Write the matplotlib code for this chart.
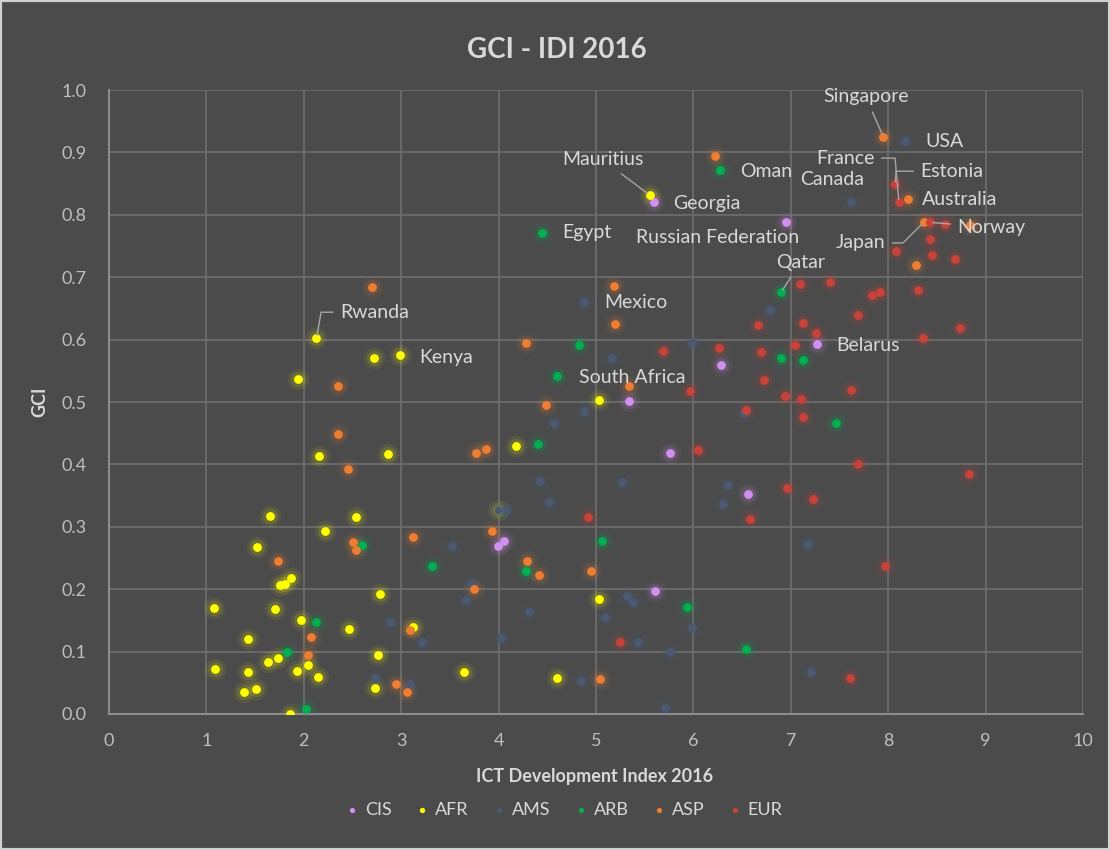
import matplotlib.pyplot as plt
from matplotlib.patches import Rectangle

plt.rcParams['font.family'] = ['Lato', 'DejaVu Sans']

# ICT Development Index 2016 (x) vs Global Cybersecurity Index (y), by region
cis_x = [5.60, 6.95, 7.27, 6.28, 5.34, 5.76, 6.56, 4.06, 3.99, 5.61]
cis_y = [0.820, 0.789, 0.593, 0.560, 0.502, 0.418, 0.353, 0.278, 0.270, 0.197]

afr_x = [5.55, 2.13, 2.99, 2.72, 1.94, 5.03, 4.18, 2.16, 2.86, 3.99, 1.65, 2.54, 2.22,
         1.52, 1.87, 1.76, 1.81, 2.78, 5.03, 1.08, 1.70, 1.97, 2.46, 3.12, 1.43, 2.76,
         1.09, 1.43, 1.63, 1.73, 1.93, 2.04, 2.15, 3.64, 4.60, 2.73, 1.39, 1.51, 1.86]
afr_y = [0.832, 0.602, 0.575, 0.570, 0.537, 0.503, 0.430, 0.413, 0.417, 0.327, 0.317, 0.315, 0.293,
         0.268, 0.218, 0.206, 0.208, 0.192, 0.185, 0.170, 0.168, 0.150, 0.136, 0.139, 0.120, 0.094,
         0.072, 0.067, 0.084, 0.090, 0.069, 0.078, 0.060, 0.067, 0.058, 0.041, 0.035, 0.040, 0.0]

ams_x = [8.17, 7.62, 4.88, 6.79, 5.99, 5.16, 4.88, 4.57, 6.52, 4.43, 5.27, 6.35, 6.30, 4.52,
         3.99, 4.08, 3.52, 7.18, 3.73, 3.67, 5.32, 5.38, 4.31, 5.09, 5.99, 2.89, 5.43, 4.02,
         3.21, 5.76, 7.21, 2.73, 3.09, 4.85, 5.71]
ams_y = [0.918, 0.820, 0.660, 0.648, 0.594, 0.570, 0.486, 0.466, 0.482, 0.374, 0.372, 0.367, 0.337, 0.339,
         0.327, 0.327, 0.270, 0.273, 0.208, 0.183, 0.189, 0.180, 0.163, 0.155, 0.138, 0.147, 0.115, 0.122,
         0.115, 0.099, 0.067, 0.058, 0.048, 0.053, 0.010]

arb_x = [6.27, 4.45, 6.90, 4.83, 4.60, 6.90, 7.12, 7.46, 4.40, 2.60, 5.06, 3.32, 4.28, 5.93,
         2.13, 6.54, 1.83, 2.02]
arb_y = [0.872, 0.771, 0.676, 0.592, 0.542, 0.570, 0.567, 0.467, 0.433, 0.271, 0.278, 0.237, 0.229, 0.172,
         0.147, 0.104, 0.099, 0.008]

asp_x = [7.95, 6.22, 8.20, 8.37, 8.84, 8.29, 2.70, 5.18, 5.19, 4.28, 2.35, 5.34, 4.49, 2.35,
         3.77, 3.87, 2.45, 3.93, 3.12, 2.51, 2.54, 1.74, 4.29, 4.41, 4.95, 3.75, 2.07, 3.09,
         2.04, 2.95, 3.06, 5.04]
asp_y = [0.925, 0.895, 0.825, 0.789, 0.784, 0.719, 0.684, 0.686, 0.625, 0.595, 0.525, 0.525, 0.495, 0.448,
         0.419, 0.425, 0.393, 0.293, 0.284, 0.276, 0.263, 0.246, 0.246, 0.222, 0.229, 0.200, 0.123, 0.135,
         0.095, 0.048, 0.035, 0.056]

eur_x = [8.07, 8.11, 8.43, 8.58, 8.43, 8.08, 8.45, 8.69, 7.09, 7.40, 7.83, 7.92, 8.31, 7.69,
         6.66, 7.12, 7.26, 8.74, 8.36, 7.04, 6.26, 5.69, 6.69, 6.72, 7.62, 5.97, 6.94, 7.10,
         6.54, 7.13, 6.05, 7.69, 8.83, 6.96, 7.23, 4.92, 6.58, 7.97, 5.25, 7.61]
eur_y = [0.849, 0.820, 0.788, 0.785, 0.762, 0.742, 0.735, 0.729, 0.689, 0.692, 0.672, 0.676, 0.680, 0.640,
         0.623, 0.627, 0.610, 0.618, 0.603, 0.591, 0.586, 0.582, 0.580, 0.535, 0.520, 0.518, 0.509, 0.505,
         0.488, 0.476, 0.423, 0.400, 0.385, 0.363, 0.344, 0.315, 0.312, 0.237, 0.116, 0.057]

regions = ['CIS', 'AFR', 'AMS', 'ARB', 'ASP', 'EUR']
colors = ['#d18ff0', '#ffff00', '#4a5a72', '#00b050', '#ed7d31', '#c9423a']
xs = [cis_x, afr_x, ams_x, arb_x, asp_x, eur_x]
ys = [cis_y, afr_y, ams_y, arb_y, asp_y, eur_y]

# label: (point x, point y, text x, text y, ha, leader connection or None)
straight = 'arc3'
labels = {
    'Singapore': (7.95, 0.925, 7.77, 0.989, 'center', straight),
    'USA': (8.17, 0.918, 8.38, 0.918, 'left', None),
    'France': (8.11, 0.820, 7.86, 0.891, 'right', 'angle,angleA=0,angleB=95,rad=0'),
    'Canada': (7.62, 0.820, 7.42, 0.856, 'center', None),
    'Estonia': (8.07, 0.849, 8.33, 0.870, 'left', 'angle,angleA=0,angleB=85,rad=0'),
    'Australia': (8.20, 0.825, 8.35, 0.824, 'left', None),
    'Norway': (8.43, 0.788, 8.71, 0.780, 'left', straight),
    'Japan': (8.37, 0.789, 7.97, 0.755, 'right', 'angle,angleA=0,angleB=45,rad=0'),
    'Russian Federation': (6.95, 0.789, 6.25, 0.763, 'center', None),
    'Qatar': (6.90, 0.676, 7.10, 0.724, 'center', straight),
    'Belarus': (7.27, 0.593, 7.47, 0.591, 'left', None),
    'Mauritius': (5.55, 0.832, 5.07, 0.888, 'center', straight),
    'Georgia': (5.60, 0.820, 5.79, 0.819, 'left', None),
    'Oman': (6.27, 0.872, 6.48, 0.870, 'left', None),
    'Egypt': (4.45, 0.771, 4.65, 0.771, 'left', None),
    'Mexico': (4.88, 0.660, 5.08, 0.660, 'left', None),
    'South Africa': (5.03, 0.503, 4.83, 0.540, 'left', None),
    'Rwanda': (2.13, 0.602, 2.37, 0.644, 'left', 'angle,angleA=0,angleB=80,rad=0'),
    'Kenya': (2.99, 0.575, 3.19, 0.572, 'left', None),
}

bg = '#4b4b4b'
txt = '#d9d9d9'
fig = plt.figure(figsize=(11.1, 8.5), dpi=100, facecolor=bg)
fig.patches.append(Rectangle((0, 0), 1, 1, transform=fig.transFigure, fill=False,
                             edgecolor='#d0d0d0', lw=3, zorder=10))
ax = fig.add_axes([0.0982, 0.16, 0.8775, 0.734])
ax.set_facecolor(bg)

for name, c, x, y in zip(regions, colors, xs, ys):
    # soft glow like the spreadsheet markers
    ax.scatter(x, y, s=240, color=c, alpha=0.07, lw=0, zorder=2)
    ax.scatter(x, y, s=120, color=c, alpha=0.12, lw=0, zorder=2)
    ax.scatter(x, y, s=40, color=c, lw=0, zorder=3, label=name)

for name, (px, py, tx, ty, ha, conn) in labels.items():
    if conn:
        ax.annotate(name, xy=(px, py), xytext=(tx, ty), ha=ha, va='center',
                    fontsize=14, color=txt, zorder=4,
                    arrowprops=dict(arrowstyle='-', color='#a6a6a6', lw=1,
                                    shrinkA=3, shrinkB=2, connectionstyle=conn))
    else:
        ax.text(tx, ty, name, ha=ha, va='center', fontsize=14, color=txt, zorder=4)

ax.set_xlim(0, 10)
ax.set_ylim(0, 1.0)
ax.set_xticks(range(0, 11))
ax.set_yticks([i / 10 for i in range(11)])
ax.set_yticklabels(['%.1f' % (i / 10) for i in range(11)])
ax.grid(True, color='#6e6e6e', lw=1.2, zorder=0)
ax.set_axisbelow(True)
for s in ['top', 'right']:
    ax.spines[s].set_visible(False)
for s in ['left', 'bottom']:
    ax.spines[s].set_color('#8c8c8c')
    ax.spines[s].set_linewidth(1.5)
ax.tick_params(length=0, colors='#bfbfbf', labelsize=13)
ax.tick_params(axis='x', pad=14)
ax.tick_params(axis='y', pad=16)

fig.text(0.502, 0.941, 'GCI - IDI 2016', ha='center', va='center',
         fontsize=20, fontweight='bold', color=txt)
fig.text(0.536, 0.086, 'ICT Development Index 2016', ha='center', va='center',
         fontsize=13, fontweight='bold', color=txt)
fig.text(0.036, 0.527, 'GCI', ha='center', va='center', rotation=90,
         fontsize=13, fontweight='bold', color=txt)

leg = fig.legend(loc='center', bbox_to_anchor=(0.508, 0.047), ncol=6, frameon=False,
                 fontsize=13, handlelength=0.8, handletextpad=0.3, columnspacing=1.3,
                 markerscale=0.6)
for t in leg.get_texts():
    t.set_color(txt)

fig.savefig('out.png', dpi=100, facecolor=bg)
